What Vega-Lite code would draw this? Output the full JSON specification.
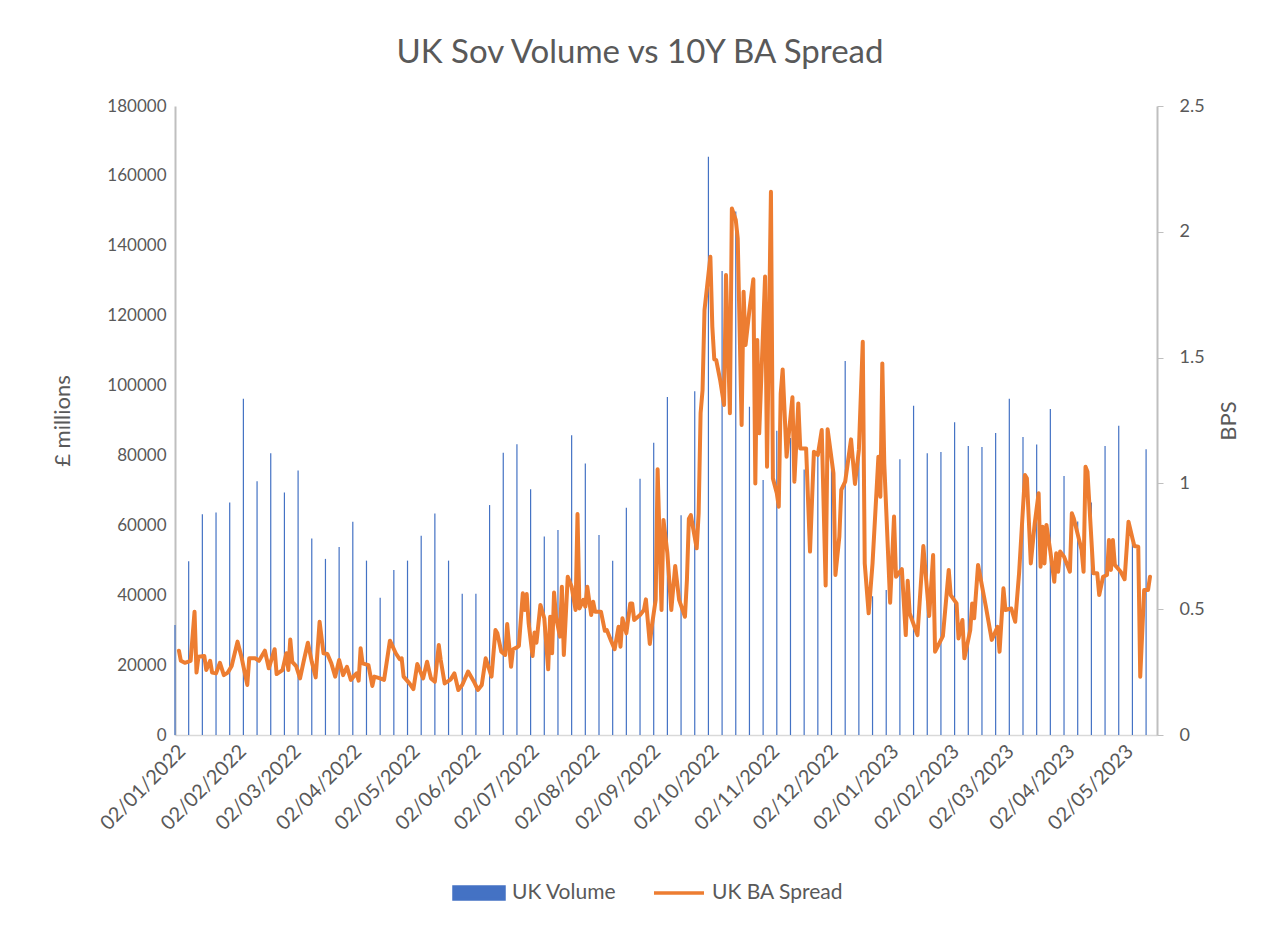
{
"$schema": "https://vega.github.io/schema/vega-lite/v6.json",
"width": 982, "height": 629,
"autosize": {"type": "none"},
"padding": {"left": 175, "top": 106, "right": 122, "bottom": 192},
"background": "white",
"config": {"font": "Lato", "view": {"stroke": null}, "axis": {"labelColor": "#595959", "titleColor": "#595959", "labelFont": "Lato", "titleFont": "Lato", "titleFontWeight": "normal", "grid": false, "domainColor": "#BFBFBF"}},
"title": {"text": "UK Sov Volume vs 10Y BA Spread", "fontSize": 33, "font": "Lato", "fontWeight": "normal", "color": "#595959", "anchor": "middle", "frame": "group", "dx": -26, "offset": 27},
"datasets": {
"volume": [
{"date":"2022-01-02","volume":31500},{"date":"2022-01-09","volume":49700},{"date":"2022-01-16","volume":63200},{"date":"2022-01-23","volume":63700},{"date":"2022-01-30","volume":66500},{"date":"2022-02-06","volume":96200},{"date":"2022-02-13","volume":72600},{"date":"2022-02-20","volume":80600},{"date":"2022-02-27","volume":69400},{"date":"2022-03-06","volume":75700},{"date":"2022-03-13","volume":56200},{"date":"2022-03-20","volume":50400},{"date":"2022-03-27","volume":53800},{"date":"2022-04-03","volume":61000},{"date":"2022-04-10","volume":49900},{"date":"2022-04-17","volume":39300},{"date":"2022-04-24","volume":47200},{"date":"2022-05-01","volume":49900},{"date":"2022-05-08","volume":57000},{"date":"2022-05-15","volume":63400},{"date":"2022-05-22","volume":49900},{"date":"2022-05-29","volume":40400},{"date":"2022-06-05","volume":40400},{"date":"2022-06-12","volume":65800},{"date":"2022-06-19","volume":80800},{"date":"2022-06-26","volume":83200},{"date":"2022-07-03","volume":70300},{"date":"2022-07-10","volume":56800},{"date":"2022-07-17","volume":58700},{"date":"2022-07-24","volume":85800},{"date":"2022-07-31","volume":77700},{"date":"2022-08-07","volume":57200},{"date":"2022-08-14","volume":49900},{"date":"2022-08-21","volume":65000},{"date":"2022-08-28","volume":73300},{"date":"2022-09-04","volume":83600},{"date":"2022-09-11","volume":96700},{"date":"2022-09-18","volume":62900},{"date":"2022-09-25","volume":98400},{"date":"2022-10-02","volume":165500},{"date":"2022-10-09","volume":132800},{"date":"2022-10-16","volume":149800},{"date":"2022-10-23","volume":93900},{"date":"2022-10-30","volume":73000},{"date":"2022-11-06","volume":87100},{"date":"2022-11-13","volume":85000},{"date":"2022-11-20","volume":76000},{"date":"2022-11-27","volume":82300},{"date":"2022-12-04","volume":80000},{"date":"2022-12-11","volume":107000},{"date":"2022-12-18","volume":79800},{"date":"2022-12-25","volume":39700},{"date":"2023-01-01","volume":41500},{"date":"2023-01-08","volume":78900},{"date":"2023-01-15","volume":94200},{"date":"2023-01-22","volume":80600},{"date":"2023-01-29","volume":81000},{"date":"2023-02-05","volume":89500},{"date":"2023-02-12","volume":82700},{"date":"2023-02-19","volume":82400},{"date":"2023-02-26","volume":86400},{"date":"2023-03-05","volume":96200},{"date":"2023-03-12","volume":85300},{"date":"2023-03-19","volume":83100},{"date":"2023-03-26","volume":93300},{"date":"2023-04-02","volume":74100},{"date":"2023-04-09","volume":61100},{"date":"2023-04-16","volume":66500},{"date":"2023-04-23","volume":82700},{"date":"2023-04-30","volume":88500},{"date":"2023-05-07","volume":55000},{"date":"2023-05-14","volume":81800}
],
"spread": [
{"date":"2022-01-04","bps":0.335},{"date":"2022-01-05","bps":0.295},{"date":"2022-01-07","bps":0.287},{"date":"2022-01-10","bps":0.295},{"date":"2022-01-12","bps":0.49},{"date":"2022-01-13","bps":0.248},{"date":"2022-01-14","bps":0.311},{"date":"2022-01-17","bps":0.314},{"date":"2022-01-18","bps":0.258},{"date":"2022-01-20","bps":0.295},{"date":"2022-01-21","bps":0.248},{"date":"2022-01-23","bps":0.245},{"date":"2022-01-25","bps":0.287},{"date":"2022-01-27","bps":0.238},{"date":"2022-01-29","bps":0.248},{"date":"2022-01-31","bps":0.274},
{"date":"2022-02-03","bps":0.371},{"date":"2022-02-05","bps":0.311},{"date":"2022-02-08","bps":0.199},{"date":"2022-02-09","bps":0.305},{"date":"2022-02-12","bps":0.305},{"date":"2022-02-14","bps":0.295},{"date":"2022-02-17","bps":0.335},{"date":"2022-02-19","bps":0.265},{"date":"2022-02-22","bps":0.341},{"date":"2022-02-23","bps":0.242},{"date":"2022-02-26","bps":0.258},{"date":"2022-02-28","bps":0.325},
{"date":"2022-03-01","bps":0.258},{"date":"2022-03-02","bps":0.38},{"date":"2022-03-03","bps":0.291},{"date":"2022-03-05","bps":0.274},{"date":"2022-03-07","bps":0.225},{"date":"2022-03-09","bps":0.298},{"date":"2022-03-11","bps":0.367},{"date":"2022-03-13","bps":0.291},{"date":"2022-03-15","bps":0.229},{"date":"2022-03-17","bps":0.45},{"date":"2022-03-19","bps":0.325},{"date":"2022-03-21","bps":0.322},{"date":"2022-03-23","bps":0.285},{"date":"2022-03-25","bps":0.232},{"date":"2022-03-27","bps":0.298},{"date":"2022-03-29","bps":0.238},{"date":"2022-03-31","bps":0.271},
{"date":"2022-04-02","bps":0.219},{"date":"2022-04-04","bps":0.238},{"date":"2022-04-05","bps":0.245},{"date":"2022-04-06","bps":0.216},{"date":"2022-04-07","bps":0.345},{"date":"2022-04-08","bps":0.285},{"date":"2022-04-11","bps":0.278},{"date":"2022-04-13","bps":0.195},{"date":"2022-04-14","bps":0.232},{"date":"2022-04-17","bps":0.225},{"date":"2022-04-19","bps":0.219},{"date":"2022-04-22","bps":0.375},{"date":"2022-04-25","bps":0.325},{"date":"2022-04-27","bps":0.301},{"date":"2022-04-28","bps":0.305},{"date":"2022-04-29","bps":0.232},
{"date":"2022-05-02","bps":0.205},{"date":"2022-05-04","bps":0.182},{"date":"2022-05-06","bps":0.282},{"date":"2022-05-09","bps":0.225},{"date":"2022-05-11","bps":0.291},{"date":"2022-05-13","bps":0.225},{"date":"2022-05-15","bps":0.212},{"date":"2022-05-17","bps":0.358},{"date":"2022-05-18","bps":0.298},{"date":"2022-05-20","bps":0.205},{"date":"2022-05-23","bps":0.22},{"date":"2022-05-25","bps":0.245},{"date":"2022-05-27","bps":0.179},{"date":"2022-05-29","bps":0.199},
{"date":"2022-06-01","bps":0.252},{"date":"2022-06-04","bps":0.212},{"date":"2022-06-06","bps":0.179},{"date":"2022-06-08","bps":0.199},{"date":"2022-06-10","bps":0.305},{"date":"2022-06-13","bps":0.232},{"date":"2022-06-15","bps":0.417},{"date":"2022-06-16","bps":0.404},{"date":"2022-06-18","bps":0.331},{"date":"2022-06-20","bps":0.318},{"date":"2022-06-21","bps":0.441},{"date":"2022-06-23","bps":0.271},{"date":"2022-06-24","bps":0.341},{"date":"2022-06-26","bps":0.348},{"date":"2022-06-27","bps":0.354},{"date":"2022-06-29","bps":0.563},{"date":"2022-06-30","bps":0.497},
{"date":"2022-07-01","bps":0.56},{"date":"2022-07-02","bps":0.444},{"date":"2022-07-04","bps":0.314},{"date":"2022-07-05","bps":0.407},{"date":"2022-07-06","bps":0.367},{"date":"2022-07-08","bps":0.517},{"date":"2022-07-10","bps":0.464},{"date":"2022-07-12","bps":0.261},{"date":"2022-07-13","bps":0.47},{"date":"2022-07-14","bps":0.325},{"date":"2022-07-15","bps":0.566},{"date":"2022-07-16","bps":0.47},{"date":"2022-07-18","bps":0.391},{"date":"2022-07-19","bps":0.589},{"date":"2022-07-20","bps":0.318},{"date":"2022-07-22","bps":0.629},{"date":"2022-07-24","bps":0.589},{"date":"2022-07-26","bps":0.497},{"date":"2022-07-27","bps":0.878},{"date":"2022-07-28","bps":0.503},{"date":"2022-07-30","bps":0.537},{"date":"2022-07-31","bps":0.51},
{"date":"2022-08-01","bps":0.589},{"date":"2022-08-03","bps":0.477},{"date":"2022-08-04","bps":0.53},{"date":"2022-08-05","bps":0.49},{"date":"2022-08-08","bps":0.49},{"date":"2022-08-10","bps":0.414},{"date":"2022-08-11","bps":0.417},{"date":"2022-08-13","bps":0.378},{"date":"2022-08-15","bps":0.341},{"date":"2022-08-17","bps":0.43},{"date":"2022-08-18","bps":0.351},{"date":"2022-08-19","bps":0.464},{"date":"2022-08-21","bps":0.404},{"date":"2022-08-23","bps":0.523},{"date":"2022-08-24","bps":0.523},{"date":"2022-08-25","bps":0.457},{"date":"2022-08-28","bps":0.477},{"date":"2022-08-30","bps":0.497},{"date":"2022-08-31","bps":0.539},
{"date":"2022-09-02","bps":0.362},{"date":"2022-09-03","bps":0.43},{"date":"2022-09-05","bps":0.537},{"date":"2022-09-06","bps":1.056},{"date":"2022-09-08","bps":0.497},{"date":"2022-09-09","bps":0.855},{"date":"2022-09-11","bps":0.722},{"date":"2022-09-13","bps":0.497},{"date":"2022-09-15","bps":0.672},{"date":"2022-09-17","bps":0.537},{"date":"2022-09-20","bps":0.47},{"date":"2022-09-21","bps":0.616},{"date":"2022-09-22","bps":0.86},{"date":"2022-09-23","bps":0.874},{"date":"2022-09-26","bps":0.742},{"date":"2022-09-27","bps":0.881},{"date":"2022-09-28","bps":1.279},{"date":"2022-09-29","bps":1.371},{"date":"2022-09-30","bps":1.689},
{"date":"2022-10-03","bps":1.901},{"date":"2022-10-04","bps":1.623},{"date":"2022-10-05","bps":1.493},{"date":"2022-10-06","bps":1.49},{"date":"2022-10-08","bps":1.411},{"date":"2022-10-10","bps":1.312},{"date":"2022-10-11","bps":1.828},{"date":"2022-10-13","bps":1.279},{"date":"2022-10-14","bps":2.093},{"date":"2022-10-16","bps":2.047},{"date":"2022-10-17","bps":1.974},{"date":"2022-10-19","bps":1.232},{"date":"2022-10-20","bps":1.762},{"date":"2022-10-21","bps":1.55},{"date":"2022-10-23","bps":1.689},{"date":"2022-10-25","bps":1.811},{"date":"2022-10-26","bps":1.0},{"date":"2022-10-27","bps":1.57},{"date":"2022-10-28","bps":1.199},{"date":"2022-10-31","bps":1.822},
{"date":"2022-11-01","bps":1.066},{"date":"2022-11-03","bps":2.159},{"date":"2022-11-04","bps":1.02},{"date":"2022-11-06","bps":0.961},{"date":"2022-11-07","bps":0.907},{"date":"2022-11-08","bps":1.358},{"date":"2022-11-09","bps":1.453},{"date":"2022-11-11","bps":1.106},{"date":"2022-11-14","bps":1.342},{"date":"2022-11-15","bps":1.007},{"date":"2022-11-17","bps":1.318},{"date":"2022-11-18","bps":1.139},{"date":"2022-11-21","bps":1.139},{"date":"2022-11-23","bps":0.729},{"date":"2022-11-25","bps":1.126},{"date":"2022-11-27","bps":1.113},{"date":"2022-11-29","bps":1.212},
{"date":"2022-12-01","bps":0.594},{"date":"2022-12-02","bps":1.215},{"date":"2022-12-05","bps":1.04},{"date":"2022-12-06","bps":0.636},{"date":"2022-12-08","bps":0.788},{"date":"2022-12-09","bps":0.974},{"date":"2022-12-11","bps":1.007},{"date":"2022-12-14","bps":1.175},{"date":"2022-12-16","bps":0.998},{"date":"2022-12-18","bps":1.133},{"date":"2022-12-20","bps":1.563},{"date":"2022-12-21","bps":0.682},{"date":"2022-12-23","bps":0.484},{"date":"2022-12-25","bps":0.682},{"date":"2022-12-28","bps":1.106},{"date":"2022-12-29","bps":0.947},{"date":"2022-12-30","bps":1.477},{"date":"2022-12-31","bps":1.08},
{"date":"2023-01-03","bps":0.526},{"date":"2023-01-05","bps":0.868},{"date":"2023-01-06","bps":0.629},{"date":"2023-01-09","bps":0.659},{"date":"2023-01-11","bps":0.397},{"date":"2023-01-12","bps":0.613},{"date":"2023-01-13","bps":0.484},{"date":"2023-01-17","bps":0.397},{"date":"2023-01-20","bps":0.751},{"date":"2023-01-23","bps":0.473},{"date":"2023-01-25","bps":0.715},{"date":"2023-01-26","bps":0.331},{"date":"2023-01-30","bps":0.393},
{"date":"2023-02-02","bps":0.656},{"date":"2023-02-03","bps":0.556},{"date":"2023-02-06","bps":0.523},{"date":"2023-02-07","bps":0.384},{"date":"2023-02-09","bps":0.457},{"date":"2023-02-10","bps":0.305},{"date":"2023-02-13","bps":0.417},{"date":"2023-02-14","bps":0.523},{"date":"2023-02-15","bps":0.464},{"date":"2023-02-17","bps":0.676},{"date":"2023-02-21","bps":0.51},{"date":"2023-02-24","bps":0.378},{"date":"2023-02-27","bps":0.43},{"date":"2023-02-28","bps":0.331},
{"date":"2023-03-02","bps":0.583},{"date":"2023-03-03","bps":0.497},{"date":"2023-03-06","bps":0.503},{"date":"2023-03-08","bps":0.45},{"date":"2023-03-10","bps":0.643},{"date":"2023-03-13","bps":1.033},{"date":"2023-03-14","bps":1.02},{"date":"2023-03-16","bps":0.682},{"date":"2023-03-18","bps":0.841},{"date":"2023-03-20","bps":0.961},{"date":"2023-03-21","bps":0.669},{"date":"2023-03-22","bps":0.828},{"date":"2023-03-23","bps":0.682},{"date":"2023-03-24","bps":0.835},{"date":"2023-03-26","bps":0.729},{"date":"2023-03-28","bps":0.609},{"date":"2023-03-29","bps":0.722},{"date":"2023-03-30","bps":0.649},{"date":"2023-03-31","bps":0.729},
{"date":"2023-04-02","bps":0.709},{"date":"2023-04-05","bps":0.649},{"date":"2023-04-06","bps":0.881},{"date":"2023-04-07","bps":0.861},{"date":"2023-04-11","bps":0.735},{"date":"2023-04-12","bps":0.649},{"date":"2023-04-13","bps":1.066},{"date":"2023-04-14","bps":1.046},{"date":"2023-04-17","bps":0.643},{"date":"2023-04-19","bps":0.643},{"date":"2023-04-20","bps":0.556},{"date":"2023-04-22","bps":0.629},{"date":"2023-04-24","bps":0.636},{"date":"2023-04-25","bps":0.775},{"date":"2023-04-26","bps":0.656},{"date":"2023-04-27","bps":0.775},{"date":"2023-04-28","bps":0.676},
{"date":"2023-05-01","bps":0.649},{"date":"2023-05-03","bps":0.619},{"date":"2023-05-05","bps":0.848},{"date":"2023-05-07","bps":0.782},{"date":"2023-05-08","bps":0.751},{"date":"2023-05-10","bps":0.748},{"date":"2023-05-11","bps":0.232},{"date":"2023-05-13","bps":0.576},{"date":"2023-05-15","bps":0.576},{"date":"2023-05-16","bps":0.629}
]
},
"layer": [
{
"data": {"name": "volume"},
"mark": {"type": "bar", "width": 1.2},
"encoding": {
"x": {"field": "date", "type": "temporal",
"scale": {"type": "utc", "padding": 0, "domain": [{"year": 2022, "month": 1, "date": 2, "utc": true}, {"year": 2023, "month": 5, "date": 19, "hours": 14, "utc": true}], "nice": false},
"axis": {"title": null, "format": "%d/%m/%Y", "labelAngle": -45, "labelFontSize": 20, "ticks": false, "domainColor": "#D9D9D9", "domainWidth": 1.5, "labelPadding": 6, "labelOverlap": false, "labelBound": false, "labelFlush": false,
"values": [{"year":2022,"month":1,"date":2,"utc":true},{"year":2022,"month":2,"date":2,"utc":true},{"year":2022,"month":3,"date":2,"utc":true},{"year":2022,"month":4,"date":2,"utc":true},{"year":2022,"month":5,"date":2,"utc":true},{"year":2022,"month":6,"date":2,"utc":true},{"year":2022,"month":7,"date":2,"utc":true},{"year":2022,"month":8,"date":2,"utc":true},{"year":2022,"month":9,"date":2,"utc":true},{"year":2022,"month":10,"date":2,"utc":true},{"year":2022,"month":11,"date":2,"utc":true},{"year":2022,"month":12,"date":2,"utc":true},{"year":2023,"month":1,"date":2,"utc":true},{"year":2023,"month":2,"date":2,"utc":true},{"year":2023,"month":3,"date":2,"utc":true},{"year":2023,"month":4,"date":2,"utc":true},{"year":2023,"month":5,"date":2,"utc":true}]}},
"y": {"field": "volume", "type": "quantitative",
"scale": {"domain": [0, 180000], "nice": false},
"axis": {"title": "£ millions", "titleFontSize": 22, "titlePadding": 32, "values": [0,20000,40000,60000,80000,100000,120000,140000,160000,180000], "format": "d", "labelFontSize": 17, "ticks": false, "domainColor": "#BFBFBF", "domainWidth": 2, "labelPadding": 9}},
"color": {"datum": "UK Volume", "type": "nominal",
"scale": {"domain": ["UK Volume", "UK BA Spread"], "range": ["#4472C4", "#ED7D31"]},
"legend": {"title": null, "orient": "none", "legendX": 277, "legendY": 760, "direction": "horizontal", "labelFontSize": 21, "labelColor": "#595959", "labelFont": "Lato", "symbolSize": 2500, "columnPadding": 30, "labelOffset": 6, "symbolStrokeWidth": 3,
"encode": {"symbols": {"update": {
"shape": {"signal": "datum.value === 'UK Volume' ? 'M-1,-0.24H1V0.24H-1Z' : 'M-1,-0.24M-1,0.24M-1,0H1'"},
"fill": {"signal": "datum.value === 'UK Volume' ? '#4472C4' : 'transparent'"},
"stroke": {"signal": "datum.value === 'UK Volume' ? 'transparent' : '#ED7D31'"},
"strokeWidth": {"value": 3.5}, "opacity": {"value": 1}}}}}}
}
},
{
"data": {"name": "spread"},
"mark": {"type": "line", "strokeWidth": 4, "strokeJoin": "round", "strokeCap": "round"},
"encoding": {
"x": {"field": "date", "type": "temporal"},
"y": {"field": "bps", "type": "quantitative",
"scale": {"domain": [0, 2.5], "nice": false},
"axis": {"orient": "right", "title": "BPS", "titleAngle": 270, "titleFontSize": 22, "titlePadding": 36, "values": [0,0.5,1,1.5,2,2.5], "format": "~g", "labelFontSize": 18, "ticks": true, "tickSize": 6, "tickColor": "#BFBFBF", "domainColor": "#BFBFBF", "domainWidth": 2, "labelPadding": 16}},
"color": {"datum": "UK BA Spread", "type": "nominal"}
}
}
],
"resolve": {"scale": {"y": "independent"}}
}
